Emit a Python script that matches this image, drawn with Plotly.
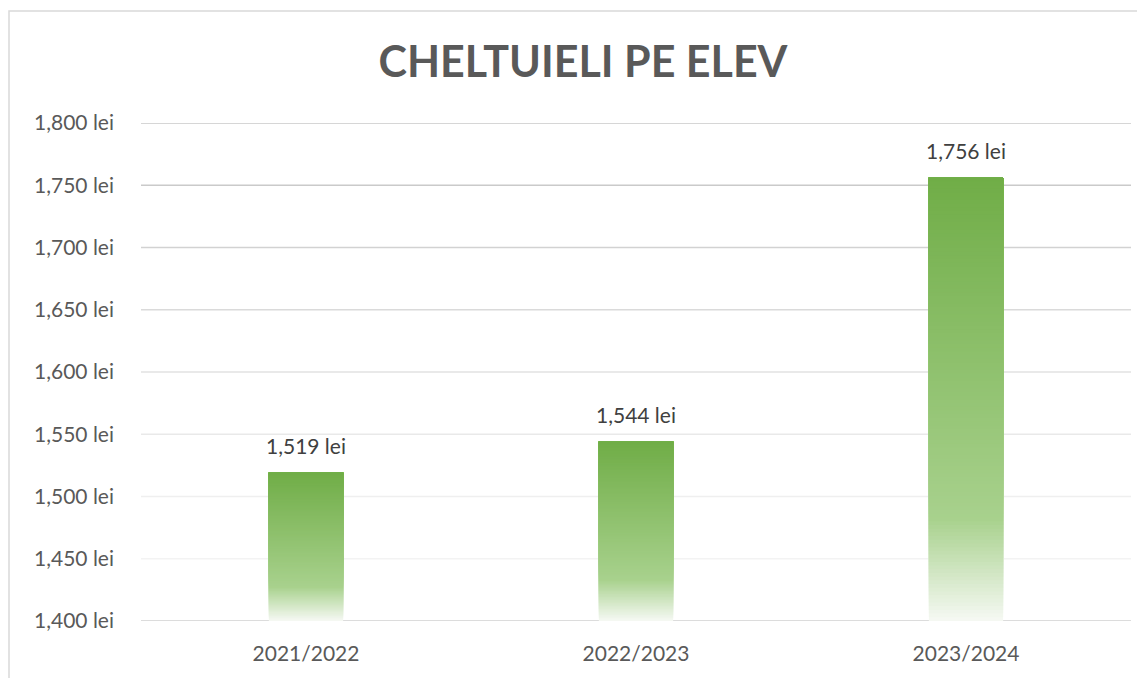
import plotly.graph_objects as go

categories = ["2021/2022", "2022/2023", "2023/2024"]
values = [1519, 1544, 1756]
y_ticks = [1400, 1450, 1500, 1550, 1600, 1650, 1700, 1750, 1800]
y_tick_labels = [f"{v:,} lei" for v in y_ticks]
grid_colors = ["#d0d0d0", "#f3f3f3", "#efefef", "#e9e9e9", "#e2e2e2", "#dadada", "#d2d2d2", "#cacaca", "#c8c8c8"]

Y_MIN, Y_MAX = 1400, 1800
FONT = "Lato, 'Open Sans', sans-serif"

# gradient stops: (fraction from top, rgb)
stops = [(0.0, (112, 173, 71)), (0.77, (168, 209, 141)), (1.0, (246, 249, 244))]


def grad_color(t):
    for (t0, c0), (t1, c1) in zip(stops[:-1], stops[1:]):
        if t <= t1:
            f = (t - t0) / (t1 - t0) if t1 > t0 else 0
            return "rgb(%d,%d,%d)" % tuple(round(a + (b - a) * f) for a, b in zip(c0, c1))
    return "rgb(%d,%d,%d)" % stops[-1][1]


N = 120
xs, bases, heights, colors = [], [], [], []
for k in range(N):
    frac_bottom = k / N
    t = 1 - (k + 0.5) / N
    for cat, v in zip(categories, values):
        b = Y_MIN + (v - Y_MIN) * frac_bottom
        xs.append(cat)
        bases.append(b)
        heights.append(v - b)
        colors.append(grad_color(t))

fig = go.Figure()
fig.add_trace(go.Bar(
    x=xs, y=heights, base=bases,
    marker=dict(color=colors, line=dict(width=0)),
    width=0.225, hoverinfo="skip", showlegend=False,
))

# gridlines with fading colours
for yv, col in zip(y_ticks, grid_colors):
    fig.add_shape(type="line", xref="paper", yref="y", x0=0, x1=1, y0=yv, y1=yv,
                  line=dict(color=col, width=1.5), layer="below")

W, H = 1137, 670
ML, MR, MT, MB = 133, 14, 115, 57
PW, PH = W - ML - MR, H - MT - MB

# chart border
fig.add_shape(type="rect", xref="paper", yref="paper",
              x0=(1 - ML) / PW, x1=1.2, y0=-0.3, y1=1 + (MT - 3) / PH,
              line=dict(color="#d9d9d9", width=1.5), fillcolor="rgba(0,0,0,0)", layer="below")

for cat, v in zip(categories, values):
    fig.add_annotation(x=cat, y=v, text=f"{v:,} lei", showarrow=False,
                       yanchor="bottom", yshift=13,
                       font=dict(family=FONT, size=21, color="#404040"))

fig.update_layout(
    width=W, height=H,
    margin=dict(l=ML, r=MR, t=MT, b=MB, autoexpand=False),
    paper_bgcolor="white", plot_bgcolor="white",
    barmode="overlay",
    title=dict(text="<b>CHELTUIELI PE ELEV</b>", x=575 / W, xanchor="center",
               xref="container", yref="container", y=1 - 54 / H, yanchor="middle",
               font=dict(family=FONT, size=43, color="#595959")),
    xaxis=dict(type="category", categoryorder="array", categoryarray=categories,
               showgrid=False, zeroline=False, showline=False, ticks="",
               tickfont=dict(family=FONT, size=21, color="#595959"),
               ticklabelstandoff=18),
    yaxis=dict(range=[Y_MIN, Y_MAX], tickvals=y_ticks, ticktext=y_tick_labels,
               showgrid=False, zeroline=False, showline=False, ticks="",
               tickfont=dict(family=FONT, size=21, color="#595959"),
               ticklabelstandoff=26),
)

fig.write_html("out.html")
